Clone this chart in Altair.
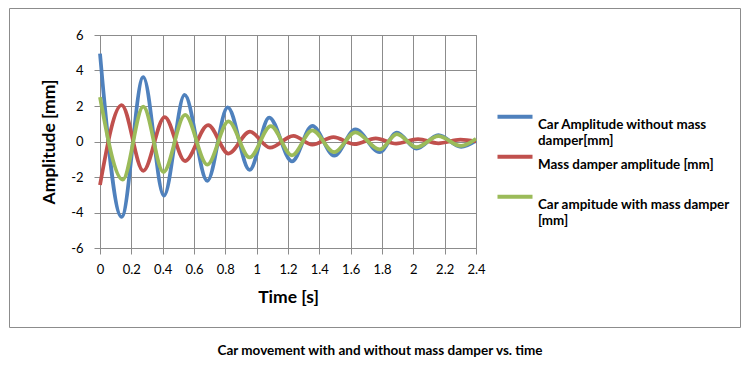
import altair as alt
import pandas as pd

S_BLUE = "Car Amplitude without mass damper[mm]"
S_RED = "Mass damper amplitude [mm]"
S_GREEN = "Car ampitude with mass damper [mm]"

# extrema (time [s], amplitude [mm])
t_blue = [0, 0.138, 0.276, 0.408, 0.54, 0.685, 0.815, 0.955, 1.08, 1.225,
          1.355, 1.495, 1.63, 1.785, 1.895, 2.02, 2.16, 2.305, 2.4]
y_blue = [4.95, -4.25, 3.63, -3.05, 2.62, -2.22, 1.92, -1.6, 1.35, -1.12,
          0.88, -0.8, 0.68, -0.6, 0.5, -0.4, 0.36, -0.3, 0.05]

t_red = [0, 0.138, 0.276, 0.413, 0.543, 0.69, 0.82, 0.957, 1.085, 1.234,
         1.355, 1.49, 1.625, 1.76, 1.89, 2.03, 2.16, 2.3, 2.4]
y_red = [-2.45, 2.05, -1.65, 1.38, -1.1, 0.92, -0.68, 0.56, -0.35, 0.32,
         -0.18, 0.25, -0.15, 0.18, -0.12, 0.14, -0.1, 0.1, 0.0]

t_green = [0, 0.145, 0.276, 0.405, 0.543, 0.685, 0.82, 0.955, 1.09, 1.225,
           1.355, 1.495, 1.63, 1.785, 1.895, 2.02, 2.16, 2.305, 2.4]
y_green = [2.5, -2.15, 1.96, -1.72, 1.5, -1.3, 1.13, -0.9, 0.87, -0.78,
           0.62, -0.6, 0.52, -0.45, 0.42, -0.32, 0.3, -0.25, 0.15]

x_ticks = [0, 0.2, 0.4, 0.6, 0.8, 1, 1.2, 1.4, 1.6, 1.8, 2, 2.2, 2.4]
y_ticks = [-6, -4, -2, 0, 2, 4, 6]

series = [S_BLUE, S_RED, S_GREEN]
colors = ["#4F81BD", "#C0504D", "#9BBB59"]

rows = []
for k, (name, ts, ys) in enumerate([(S_BLUE, t_blue, y_blue),
                                    (S_RED, t_red, y_red),
                                    (S_GREEN, t_green, y_green)]):
    for t, y in zip(ts, ys):
        rows.append({"series": name, "order": k, "t": t, "amp": y})
df = pd.DataFrame(rows)

FONT = "Lato"
GRID = "#8C8C8C"

label_expr = (
    "datum.label == '" + S_BLUE + "' ? ['Car Amplitude without mass', 'damper[mm]'] : "
    "datum.label == '" + S_GREEN + "' ? ['Car ampitude with mass damper', '[mm]'] : "
    "[datum.label, '']"
)

lines = alt.Chart(df).mark_line(strokeWidth=3.75, interpolate="monotone").encode(
    x=alt.X("t:Q",
            scale=alt.Scale(domain=[0, 2.4], nice=False, zero=False),
            axis=alt.Axis(values=x_ticks, title="Time [s]",
                          labelExpr="toString(datum.value)")),
    y=alt.Y("amp:Q",
            scale=alt.Scale(domain=[-6, 6], nice=False),
            axis=alt.Axis(values=y_ticks, title="Amplitude [mm]",
                          labelExpr="toString(datum.value)")),
    color=alt.Color("series:N",
                    scale=alt.Scale(domain=series, range=colors),
                    legend=alt.Legend(
                        title=None, orient="none", legendX=404, legendY=79,
                        symbolType="M-2,-0.95L2,-0.95", symbolSize=306.25,
                        symbolStrokeWidth=4, labelExpr=label_expr,
                        labelBaseline="middle",
                        labelFont=FONT, labelFontSize=13.4, labelFontWeight="bold",
                        labelColor="#000000", labelLimit=300, labelOffset=12,
                        rowPadding=0)),
    detail="order:O",
    order=alt.Order("order:O"),
)

frame = alt.Chart(pd.DataFrame({"a": [0]})).mark_rect(
    fill=None, stroke="#8C8C8C", strokeWidth=1
).encode(
    x=alt.value(-90.5), x2=alt.value(640.5),
    y=alt.value(-26.5), y2=alt.value(292.5),
)

chart = alt.layer(lines, frame).properties(
    width=376, height=213,
    background="white",
    autosize=alt.AutoSizeParams(type="none"),
    padding={"left": 92, "top": 27, "right": 266, "bottom": 112},
    title=alt.Title("Car movement with and without mass damper vs. time",
                    orient="bottom", anchor="middle", font=FONT, fontSize=13.5,
                    fontWeight="bold", color="#000000", offset=16, dx=92),
).configure(
    style={"guide-label": {"lineHeight": 16}},
).configure_axis(
    gridColor=GRID, gridOpacity=1, domainColor=GRID, tickColor=GRID,
    tickSize=6, labelFont=FONT, labelFontSize=13, labelColor="#000000",
    labelFlush=False,
    titleFont=FONT, titleFontSize=17.5, titleFontWeight="bold",
    titleColor="#000000",
).configure_axisY(
    labelPadding=11, titlePadding=12,
).configure_axisX(
    labelPadding=9, titlePadding=12,
).configure_view(
    stroke=GRID,
)

chart.save("out.html", embed_options={"renderer": "svg", "actions": False})
